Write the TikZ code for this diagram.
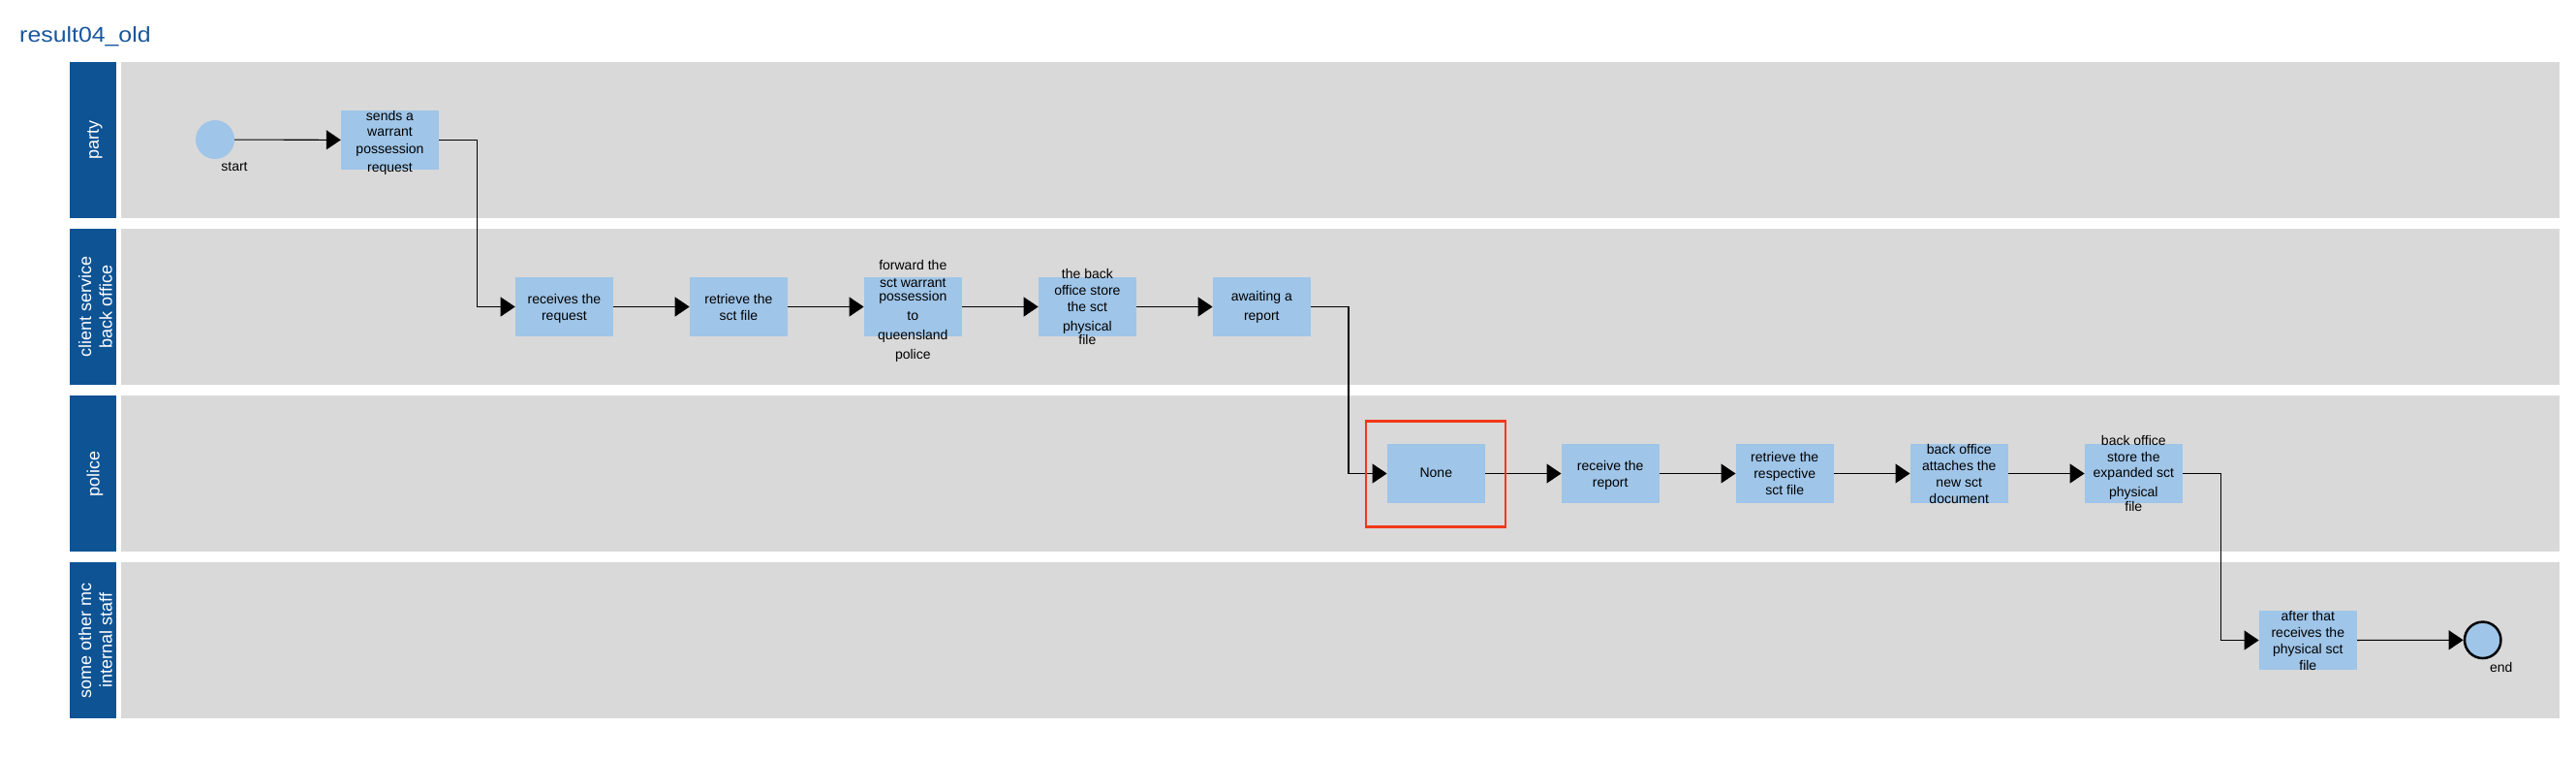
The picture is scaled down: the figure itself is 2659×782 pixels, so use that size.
\documentclass[tikz,border=0pt]{standalone}
\usepackage{fontspec}
\setmainfont{Liberation Sans}
\usetikzlibrary{arrows.meta}
\definecolor{lanehead}{RGB}{14,83,148}
\definecolor{lanebody}{RGB}{217,217,217}
\definecolor{taskfill}{RGB}{159,197,232}
\definecolor{titleblue}{RGB}{24,86,156}
\definecolor{hlred}{RGB}{242,56,26}
\newcommand{\lnst}{\rule[-4.5pt]{0pt}{17pt}}
\begin{document}
\begin{tikzpicture}[x=1pt,y=-1pt,
  lanebox/.style={fill=lanebody,draw=none},
  headbox/.style={fill=lanehead,draw=none},
  headtext/.style={text=white,font=\fontsize{18}{21.6}\selectfont,rotate=90,align=center,inner sep=0pt},
  task/.style={fill=taskfill,draw=none,minimum width=101pt,minimum height=61pt,inner sep=0pt},
  ttext/.style={font=\fontsize{14}{17}\selectfont,align=center,inner sep=0pt,text=black},
  evlabel/.style={font=\fontsize{14}{17}\selectfont,inner sep=0pt,text=black},
  flow/.style={draw=black,line width=1.1pt,-{Triangle[length=15pt,width=20pt]}},
  startev/.style={circle,fill=taskfill,draw=none,minimum size=40pt,inner sep=0pt},
  endev/.style={circle,fill=taskfill,draw=black,line width=2.5pt,minimum size=37.5pt,inner sep=0pt},
  hlbox/.style={draw=hlred,line width=2.6pt}
]
\useasboundingbox (0,0) rectangle (2659,782);
\fill[white] (0,0) rectangle (2659,782);

% title
\node[anchor=base west,text=titleblue,font=\fontsize{22}{26}\selectfont,xscale=1.13,inner sep=0pt] (title) at (20,43.3) {result04\_old};

% lanes
\fill[headbox] (72,64) rectangle (120,225);
\fill[lanebox] (125,64) rectangle (2642,225);
\fill[headbox] (72,236) rectangle (120,397);
\fill[lanebox] (125,236) rectangle (2642,397);
\fill[headbox] (72,408) rectangle (120,569);
\fill[lanebox] (125,408) rectangle (2642,569);
\fill[headbox] (72,580) rectangle (120,741);
\fill[lanebox] (125,580) rectangle (2642,741);

\node[headtext] (h1) at (98,144.5) {party};
\node[headtext] (h2) at (98.5,316.5) {client service\\back office};
\node[headtext] (h3) at (98,488.5) {police};
\node[headtext] (h4) at (98.5,660.5) {some other mc\\internal staff};

% events
\node[startev] (start) at (222,144) {};
\node[evlabel] (startl) at (242,172) {start};
\node[endev] (end) at (2562.7,660.3) {};
\node[evlabel] (endl) at (2581.7,688) {end};

% tasks
\node[task] (t1) at (402.5,144.5) {};
\node[task] (t2) at (582.4,316.5) {};
\node[task] (t3) at (762.4,316.5) {};
\node[task] (t4) at (942.3,316.5) {};
\node[task] (t5) at (1122.4,316.5) {};
\node[task] (t6) at (1302.3,316.5) {};
\node[task] (t7) at (1482.3,488.5) {};
\node[task] (t8) at (1662.2,488.5) {};
\node[task] (t9) at (1842.2,488.5) {};
\node[task] (t10) at (2022.2,488.5) {};
\node[task] (t11) at (2202.3,488.5) {};
\node[task] (t12) at (2382.3,660.5) {};

% task texts
\node[ttext] (t1l) at (402.5,146.7) {\lnst sends a\\[-0.3pt]\lnst warrant\\[0.3pt]\lnst possession\\[2.3pt]\lnst request};
\node[ttext] (t2l) at (582.4,318.3) {\lnst receives the\\\lnst request};
\node[ttext] (t3l) at (762.4,318.3) {\lnst retrieve the\\\lnst sct file};
\node[ttext] (t4l) at (942.3,320.8) {\lnst forward the\\[0.7pt]\lnst sct warrant\\[-3pt]\lnst possession\\[3pt]\lnst to\\[3pt]\lnst queensland\\[3pt]\lnst police};
\node[ttext] (t5l) at (1122.4,317.2) {\lnst the back\\[0.4pt]\lnst office store\\[-0.4pt]\lnst the sct\\[3pt]\lnst physical\\[-3.3pt]\lnst file};
\node[ttext] (t6l) at (1302.3,316.7) {\lnst awaiting a\\[3pt]\lnst report};
\node[ttext] (t7l) at (1482.3,488.5) {\lnst None};
\node[ttext] (t8l) at (1662.2,490) {\lnst receive the\\\lnst report};
\node[ttext] (t9l) at (1842.2,489.2) {\lnst retrieve the\\\lnst respective\\\lnst sct file};
\node[ttext] (t10l) at (2022.2,489.7) {\lnst back office\\\lnst attaches the\\\lnst new sct\\\lnst document};
\node[ttext] (t11l) at (2202.3,489.2) {\lnst back office\\[0.3pt]\lnst store the\\[-1pt]\lnst expanded sct\\[3.4pt]\lnst physical\\[-2.4pt]\lnst file};
\node[ttext] (t12l) at (2382.3,661.7) {\lnst after that\\\lnst receives the\\\lnst physical sct\\\lnst file};

% connectors
\draw[flow] (start) -- (t1);
\draw[flow] (t1.east) -- ++(39.5,0) |- (t2.west);
\draw[flow] (t2) -- (t3);
\draw[flow] (t3) -- (t4);
\draw[flow] (t4) -- (t5);
\draw[flow] (t5) -- (t6);
\draw[flow] (t6.east) -- ++(39,0) |- (t7.west);
\draw[flow] (t7) -- (t8);
\draw[flow] (t8) -- (t9);
\draw[flow] (t9) -- (t10);
\draw[flow] (t10) -- (t11);
\draw[flow] (t11.east) -- ++(39.3,0) |- (t12.west);
\draw[flow] (t12) -- (end);

% highlight
\draw[hlbox] (1410,434.5) rectangle (1554,543.5);
\end{tikzpicture}
\end{document}
